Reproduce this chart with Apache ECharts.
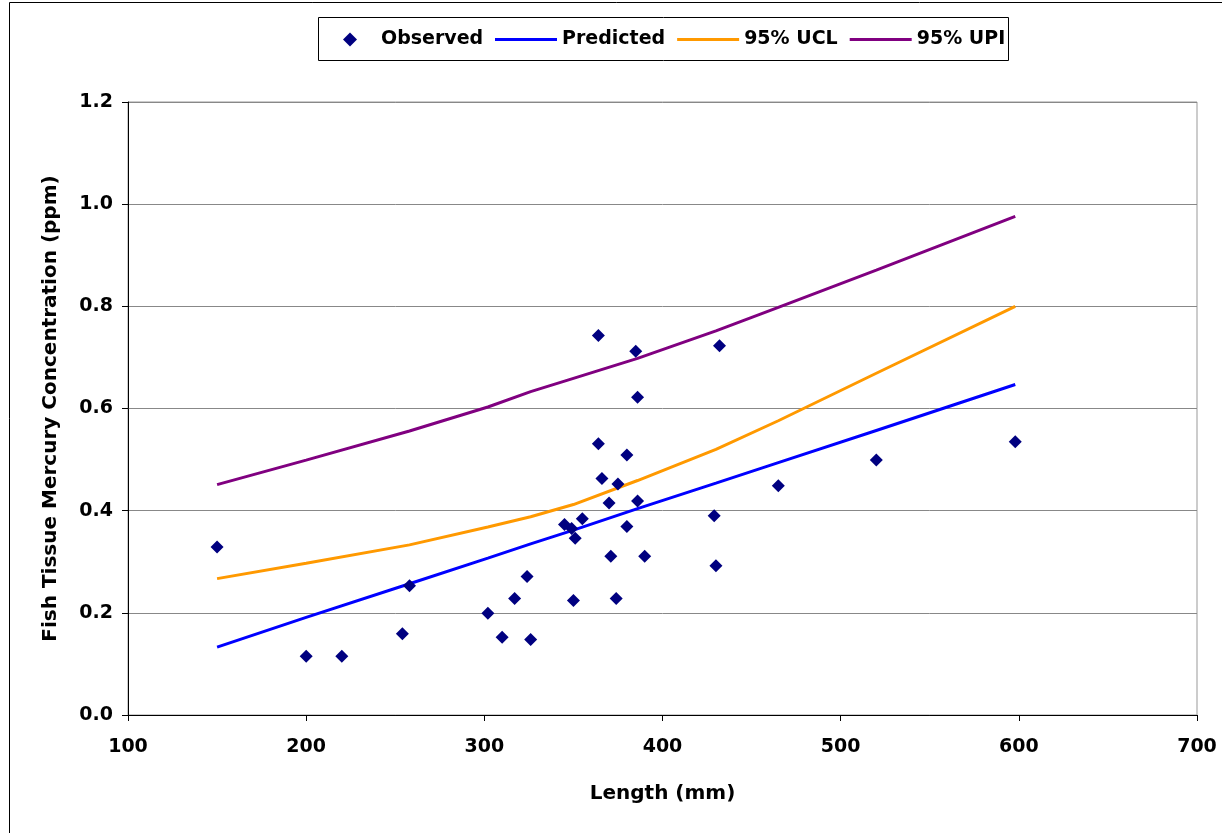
<!DOCTYPE html>
<html>
<head>
<meta charset="utf-8">
<title>Fish Tissue Mercury vs Length</title>
<script src="https://cdn.jsdelivr.net/npm/echarts@6/dist/echarts.min.js"></script>
<style>
    html, body { margin: 0; padding: 0; background: #fff; }
    #main { width: 1222px; height: 833px; }
</style>
</head>
<body>
<div id="main"></div>
<script>
    // observed fish: length (mm) and mercury (ppm)
    var obsLength = [150, 200, 220, 254, 258, 302, 310, 317, 324, 326, 345, 349, 351, 350, 355,
        364, 364, 366, 370, 371, 374, 375, 380, 380, 385, 386, 386, 390, 429, 430, 432, 465, 520, 598];
    var obsHg = [0.329, 0.115, 0.115, 0.159, 0.253, 0.199, 0.152, 0.228, 0.271, 0.148, 0.373, 0.365, 0.346, 0.224, 0.384,
        0.743, 0.531, 0.463, 0.415, 0.311, 0.228, 0.452, 0.509, 0.369, 0.712, 0.622, 0.419, 0.311, 0.390, 0.292, 0.723, 0.449, 0.499, 0.535];

    // regression line and bounds
    var fitLength = [150, 200, 258, 302, 326, 350, 386, 430, 465, 520, 598];
    var predicted = [0.133, 0.191, 0.257, 0.307, 0.335, 0.362, 0.404, 0.454, 0.494, 0.557, 0.647];
    var ucl = [0.267, 0.297, 0.333, 0.368, 0.388, 0.412, 0.459, 0.520, 0.576, 0.669, 0.800];
    var upi = [0.451, 0.499, 0.556, 0.603, 0.633, 0.659, 0.698, 0.752, 0.798, 0.871, 0.976];

    var font = 'DejaVu Sans';
    var legendText = { fontFamily: font, fontWeight: 'bold', fontSize: 19, color: '#000' };
    var titleText = { fontFamily: font, fontWeight: 'bold', fontSize: 20, color: '#000' };

    function pairs(xs, ys) {
        return xs.map(function (x, i) { return [x, ys[i]]; });
    }

    var option = {
        backgroundColor: '#fff',
        animation: false,
        textStyle: { fontFamily: font },
        graphic: [
            {   // chart area frame
                type: 'rect',
                shape: { x: 9.5, y: 2.5, width: 1300, height: 900 },
                style: { fill: 'none', stroke: '#000', lineWidth: 1 }
            },
            {   // legend box
                type: 'rect',
                shape: { x: 318.5, y: 17.5, width: 690, height: 43 },
                style: { fill: '#fff', stroke: '#000', lineWidth: 1 },
                z: -1
            }
        ],
        legend: [
            {
                left: 343,
                top: 30,
                padding: 0,
                itemWidth: 14,
                itemHeight: 14,
                textStyle: Object.assign({ padding: [0, 0, 0, 19] }, legendText),
                data: [{ name: 'Observed', icon: 'diamond' }]
            },
            {
                left: 495,
                top: 30,
                padding: 0,
                itemGap: 12,
                itemWidth: 62,
                itemHeight: 3,
                textStyle: legendText,
                data: [
                    { name: 'Predicted', icon: 'rect' },
                    { name: '95% UCL', icon: 'rect' },
                    { name: '95% UPI', icon: 'rect' }
                ]
            }
        ],
        grid: {
            left: 128,
            right: 25,
            top: 102,
            bottom: 118,
            show: true,
            borderColor: '#999',
            borderWidth: 1
        },
        xAxis: {
            type: 'value',
            min: 100,
            max: 700,
            interval: 100,
            name: 'Length (mm)',
            nameLocation: 'middle',
            nameGap: 69,
            nameTextStyle: titleText,
            axisLine: { lineStyle: { color: '#000', width: 1 } },
            axisTick: { show: true, length: 6, lineStyle: { color: '#000' } },
            axisLabel: { margin: 23, fontFamily: font, fontWeight: 'bold', fontSize: 19, color: '#000' },
            splitLine: { show: false }
        },
        yAxis: {
            type: 'value',
            min: 0,
            max: 1.2,
            interval: 0.2,
            name: 'Fish Tissue Mercury Concentration (ppm)',
            nameLocation: 'middle',
            nameGap: 67,
            nameTextStyle: titleText,
            axisLine: { show: true, lineStyle: { color: '#000', width: 1 } },
            axisTick: { show: true, length: 6, lineStyle: { color: '#000' } },
            axisLabel: {
                margin: 15,
                fontFamily: font,
                fontWeight: 'bold',
                fontSize: 19,
                color: '#000',
                formatter: function (v) { return v.toFixed(1); }
            },
            splitLine: { show: true, lineStyle: { color: '#888', width: 1 } }
        },
        series: [
            {
                name: 'Observed',
                type: 'scatter',
                symbol: 'diamond',
                symbolSize: 13,
                itemStyle: { color: '#000080', opacity: 1 },
                data: pairs(obsLength, obsHg),
                z: 5
            },
            {
                name: 'Predicted',
                type: 'line',
                showSymbol: false,
                symbol: 'none',
                lineStyle: { color: '#0000FF', width: 3 },
                itemStyle: { color: '#0000FF' },
                data: pairs(fitLength, predicted)
            },
            {
                name: '95% UCL',
                type: 'line',
                showSymbol: false,
                symbol: 'none',
                lineStyle: { color: '#FF9900', width: 3 },
                itemStyle: { color: '#FF9900' },
                data: pairs(fitLength, ucl)
            },
            {
                name: '95% UPI',
                type: 'line',
                showSymbol: false,
                symbol: 'none',
                lineStyle: { color: '#800080', width: 3 },
                itemStyle: { color: '#800080' },
                data: pairs(fitLength, upi)
            }
        ]
    };

    var myChart = echarts.init(document.getElementById('main'));
    myChart.setOption(option);
</script>
</body>
</html>
